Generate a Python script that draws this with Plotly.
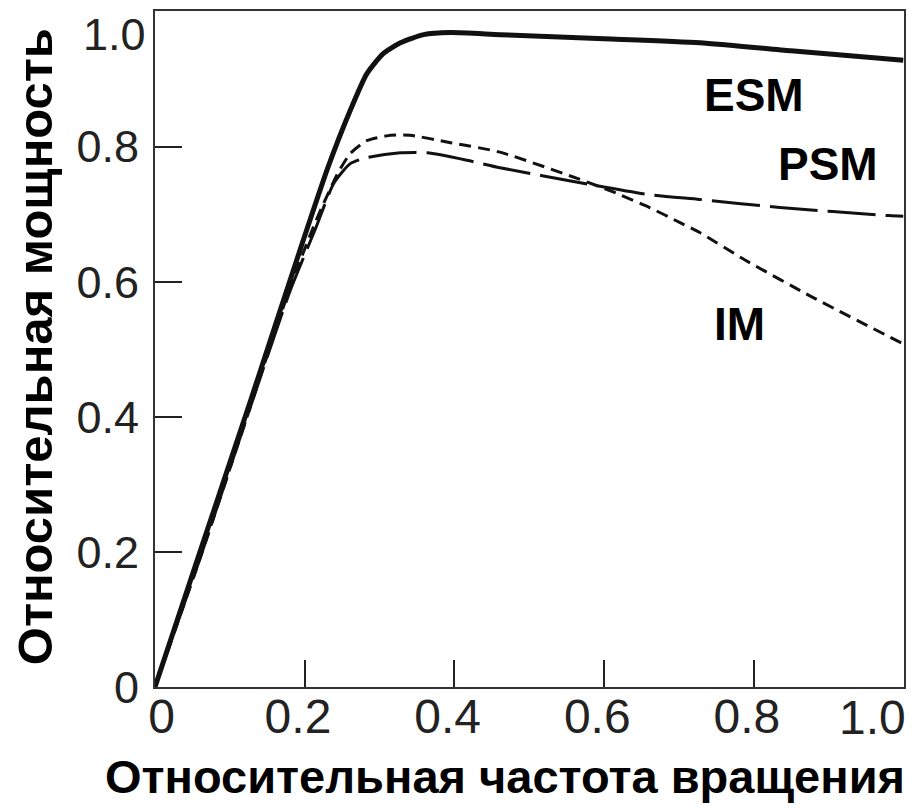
import plotly.graph_objects as go

# --- data ---
esm_x = [0, 0.061, 0.128, 0.195, 0.231, 0.261, 0.283, 0.305, 0.328, 0.359, 0.395, 0.461, 0.6, 0.728, 0.85, 1.0]
esm_y = [0, 0.203, 0.425, 0.651, 0.769, 0.854, 0.908, 0.938, 0.954, 0.966, 0.969, 0.966, 0.960, 0.954, 0.942, 0.928]

im_x = [0, 0.06, 0.12, 0.18, 0.215, 0.244, 0.261, 0.283, 0.315, 0.341, 0.395, 0.461, 0.572,
        0.617, 0.661, 0.701, 0.728, 0.789, 0.879, 1.0]
im_y = [0, 0.19, 0.39, 0.59, 0.69, 0.760, 0.790, 0.809, 0.817, 0.817, 0.806, 0.792, 0.750,
        0.731, 0.710, 0.688, 0.673, 0.632, 0.577, 0.508]

psm_x = [0, 0.06, 0.12, 0.18, 0.215, 0.239, 0.261, 0.283, 0.328, 0.364, 0.417, 0.461, 0.572,
         0.661, 0.728, 0.835, 0.981, 1.0]
psm_y = [0, 0.19, 0.39, 0.585, 0.68, 0.746, 0.775, 0.784, 0.791, 0.791, 0.780, 0.769, 0.746,
         0.729, 0.722, 0.710, 0.698, 0.697]

tick_vals = [0, 0.2, 0.4, 0.6, 0.8, 1.0]
NB = "\u00a0"
# the source figure nudges labels a bit off their ticks; the corner "1.0"s are drawn separately
x_tick_text = [NB + "0", "0.2" + NB, "0.4" + NB, "0.6" + NB, "0.8" + NB, ""]
y_tick_text = ["0", "0.2", "0.4", "0.6", "0.8", ""]
corner_label = "1.0"

label_text = ["ESM", "PSM", "IM"]
label_x = [0.801, 0.899, 0.781]
label_y = [0.876, 0.774, 0.537]

x_title = "Относительная частота вращения"
y_title = "Относительная мощность"

tick_font = "Liberation Sans, Arial, sans-serif"

fig = go.Figure()

fig.add_trace(go.Scatter(x=esm_x, y=esm_y, mode="lines", name="ESM",
                         line=dict(color="#111", width=5, shape="spline", smoothing=0.6)))
fig.add_trace(go.Scatter(x=im_x, y=im_y, mode="lines", name="IM",
                         line=dict(color="#111", width=3, dash="12px,7px", shape="spline", smoothing=0.6)))
fig.add_trace(go.Scatter(x=psm_x, y=psm_y, mode="lines", name="PSM",
                         line=dict(color="#111", width=3, dash="48px,10px", shape="spline", smoothing=0.6)))

# curve labels
for t, lx, ly in zip(label_text, label_x, label_y):
    fig.add_annotation(x=lx, y=ly, text=f"<b>{t}</b>", showarrow=False,
                       xanchor="center", yanchor="middle",
                       font=dict(family=tick_font, size=46, color="#000"))

# corner tick labels, pulled inside the frame like in the source
fig.add_annotation(x=tick_vals[-1], xref="x", y=-0.045, yref="paper", text=corner_label,
                   showarrow=False, xanchor="right", yanchor="middle", xshift=5,
                   font=dict(family=tick_font, size=48, color="#222"))
fig.add_annotation(x=-0.010, xref="paper", y=tick_vals[-1], yref="y", text=corner_label,
                   showarrow=False, xanchor="right", yanchor="middle", yshift=-23,
                   font=dict(family=tick_font, size=45, color="#222"))

# axis titles as annotations for exact placement
fig.add_annotation(xref="paper", yref="paper", x=0.467, y=-0.132, text=f"<b>{x_title}</b>",
                   showarrow=False, xanchor="center", yanchor="middle",
                   font=dict(family=tick_font, size=47, color="#000"))
fig.add_annotation(xref="paper", yref="paper", x=-0.160, y=0.503, text=f"<b>{y_title}</b>",
                   showarrow=False, xanchor="center", yanchor="middle", textangle=-90,
                   font=dict(family="Liberation Sans Narrow, Arial Narrow, Liberation Sans, sans-serif",
                             size=49, color="#000"))

axis_common = dict(
    range=[0, 1.001], tickvals=tick_vals,
    showgrid=False, zeroline=False, automargin=False,
    showline=True, linecolor="#333", linewidth=2, mirror=True,
    ticks="inside", ticklen=27, tickwidth=2, tickcolor="#222",
)

fig.update_xaxes(**axis_common, ticktext=x_tick_text, ticklabelstandoff=-14,
                 tickfont=dict(family=tick_font, size=48, color="#222"))
fig.update_yaxes(**axis_common, ticktext=y_tick_text, ticklabelstandoff=5,
                 tickfont=dict(family=tick_font, size=45, color="#222"))

# page body has an 8px margin, so the plot box is shifted back by it
fig.update_layout(
    width=922, height=812,
    margin=dict(l=147, r=26, t=3, b=133),
    paper_bgcolor="white", plot_bgcolor="white",
    showlegend=False,
)

fig.write_html("out.html")
